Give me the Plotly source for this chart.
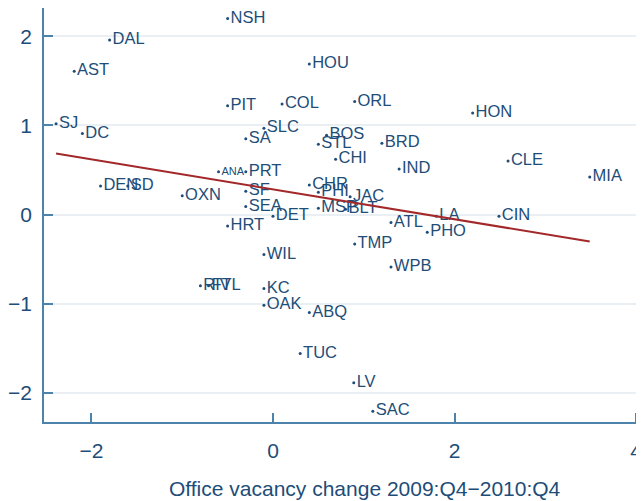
import plotly.graph_objects as go

# ---- data ----
cities = ["NSH", "DAL", "AST", "SJ", "DC", "HOU", "PIT", "COL", "ORL", "HON",
          "SLC", "SA", "BOS", "STL", "BRD", "CHI", "IND", "CLE", "MIA", "ANA",
          "PRT", "DEN", "SD", "OXN", "SF", "SEA", "CHR", "PHI", "JAC", "MSP",
          "BLT", "DET", "HRT", "ATL", "LA", "CIN", "PHO", "TMP", "WIL", "WPB",
          "RIV", "FTL", "KC", "OAK", "ABQ", "TUC", "LV", "SAC"]
vacancy_change = [-0.50, -1.80, -2.19, -2.39, -2.10, 0.40, -0.50, 0.10, 0.90, 2.20,
                  -0.10, -0.30, 0.59, 0.50, 1.20, 0.69, 1.39, 2.59, 3.49, -0.60,
                  -0.30, -1.90, -1.60, -1.00, -0.30, -0.30, 0.40, 0.50, 0.85, 0.50,
                  0.80, 0.00, -0.50, 1.30, 1.80, 2.49, 1.70, 0.90, -0.10, 1.30,
                  -0.80, -0.71, -0.10, -0.10, 0.40, 0.30, 0.89, 1.10]
y_values = [2.20, 1.96, 1.61, 1.02, 0.91, 1.69, 1.22, 1.24, 1.27, 1.14,
            0.97, 0.85, 0.89, 0.79, 0.80, 0.62, 0.51, 0.60, 0.42, 0.48,
            0.48, 0.32, 0.32, 0.21, 0.26, 0.09, 0.33, 0.25, 0.20, 0.07,
            0.06, -0.02, -0.13, -0.09, -0.02, -0.02, -0.20, -0.33, -0.45, -0.59,
            -0.80, -0.80, -0.83, -1.02, -1.10, -1.56, -1.89, -2.21]
fit_intercept = 0.283
fit_slope = -0.168
x_ticks = [-2, 0, 2, 4]
y_ticks = [-2, -1, 0, 1, 2]
x_title = "Office vacancy change 2009:Q4\u22122010:Q4"

# ---- styles ----
TEXT = "#1d4d78"
AXIS = "#4d82ab"
GRID = "#e9eff3"
RED = "#a3282a"
FONT = "Arial, Liberation Sans, sans-serif"

label_sizes = [11 if c == "ANA" else 16.5 for c in cities]

fig = go.Figure()

fig.add_trace(go.Scatter(
    x=vacancy_change, y=y_values, mode="markers+text",
    text=cities, textposition="middle right",
    marker=dict(size=3, color=TEXT),
    textfont=dict(family=FONT, size=label_sizes, color=TEXT),
    cliponaxis=False, showlegend=False, hoverinfo="text",
))

x_lo, x_hi = min(vacancy_change), max(vacancy_change)
fig.add_trace(go.Scatter(
    x=[x_lo, x_hi],
    y=[fit_intercept + fit_slope * x_lo, fit_intercept + fit_slope * x_hi],
    mode="lines", line=dict(color=RED, width=2),
    showlegend=False, hoverinfo="skip",
))

# page body has an 8px default margin, so the figure is sized/offset to compensate
fig.update_layout(
    width=636, height=493,
    margin=dict(l=36, r=0, t=0, b=79.3),
    paper_bgcolor="white", plot_bgcolor="white",
    font=dict(family=FONT, color=TEXT),
    xaxis=dict(
        range=[-2.523, 4.088], tickvals=x_ticks,
        ticktext=[("\u2212" + str(-v)) if v < 0 else str(v) for v in x_ticks],
        showgrid=False, zeroline=False, automargin=False,
        showline=True, linecolor=AXIS, linewidth=1.5,
        ticks="inside", ticklen=9, tickcolor=AXIS, tickwidth=1.5,
        tickfont=dict(size=21, color=TEXT, family=FONT),
        ticklabelstandoff=9,
    ),
    yaxis=dict(
        range=[-2.33, 2.319], tickvals=y_ticks,
        ticktext=[("\u2212" + str(-v)) if v < 0 else str(v) for v in y_ticks],
        showgrid=True, gridcolor=GRID, gridwidth=1.5, zeroline=False, automargin=False,
        showline=True, linecolor=AXIS, linewidth=1.5,
        ticks="inside", ticklen=9, tickcolor=AXIS, tickwidth=1.5,
        tickfont=dict(size=21, color=TEXT, family=FONT),
        ticklabelstandoff=6,
    ),
    annotations=[dict(
        text=x_title, xref="paper", yref="paper",
        x=0.535, y=-0.16, xanchor="center", yanchor="middle",
        showarrow=False, font=dict(size=21, color=TEXT, family=FONT),
    )],
)

fig.write_html("out.html")
